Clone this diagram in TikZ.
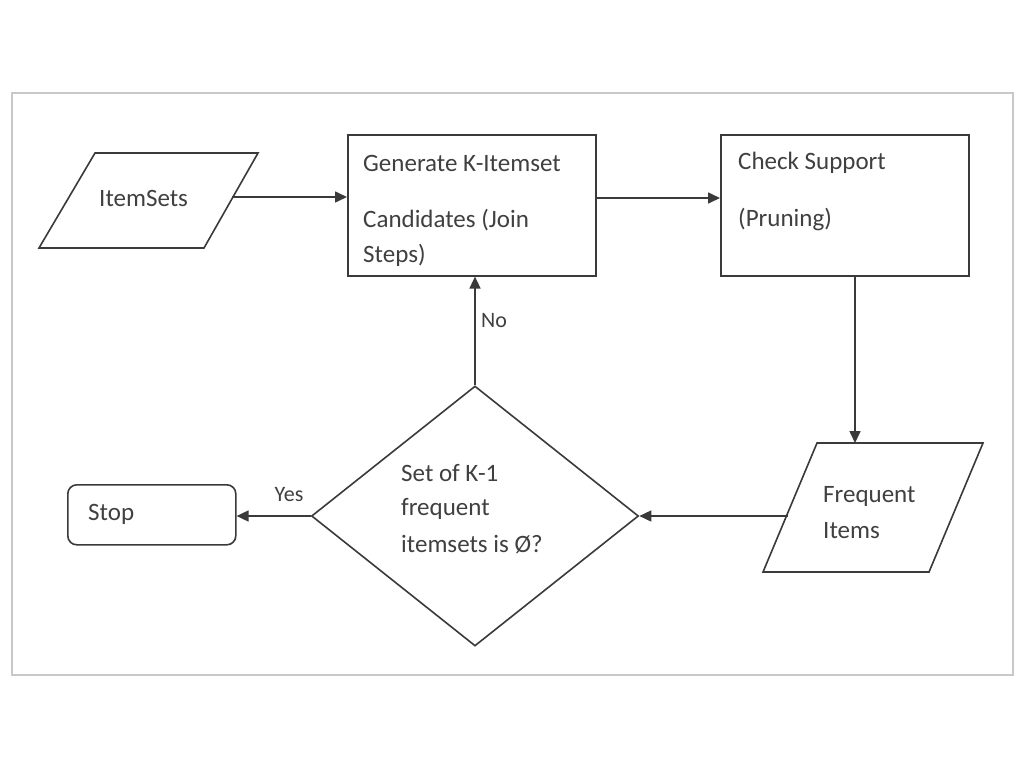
\documentclass[tikz,border=0pt]{standalone}
\usepackage{fontspec}
\setmainfont{Carlito}
\usetikzlibrary{arrows.meta,shapes.geometric}
\definecolor{linec}{HTML}{3A3A3A}
\definecolor{textc}{HTML}{404040}
\definecolor{framec}{HTML}{C8C8C8}
\tikzset{
  shapeline/.style={draw=linec, line width=1.6pt},
  lbl/.style={text=textc, font=\fontsize{25}{30}\selectfont, inner sep=0pt, anchor=west},
  small/.style={text=textc, font=\fontsize{22}{26}\selectfont, inner sep=0pt},
  conn/.style={draw=linec, line width=1.6pt, -{Triangle[length=12pt,width=11pt]}},
  boxnode/.style={shapeline, rectangle, inner sep=0pt, anchor=north west},
}
\begin{document}
\begin{tikzpicture}[x=1pt,y=-1pt]
\useasboundingbox (0,0) rectangle (1024,768);
\fill[white] (0,0) rectangle (1024,768);
\draw[framec, line width=1.2pt] (12,93) rectangle (1013,675);

% ItemSets parallelogram
\draw[shapeline] (95,153) -- (258,153) -- (204,248) -- (39,248) -- cycle;
\coordinate (itemR) at (232,197);
\node[lbl] (itemT) at (99,198) {ItemSets};

% Generate box
\node[boxnode, minimum width=248pt, minimum height=141pt] (gen) at (347,134) {};
\node[lbl] (gen1) at (363,163) {Generate K-Itemset};
\node[lbl] (gen2) at (363,220) {Candidates (Join};
\node[lbl] (gen3) at (363,255) {Steps)};

% Check box
\node[boxnode, minimum width=248pt, minimum height=141pt] (chk) at (720,134) {};
\node[lbl] (chk1) at (738,163) {Check Support};
\node[lbl] (chk2) at (738,220) {(Pruning)};

% Frequent Items parallelogram
\draw[shapeline] (817,443) -- (983,443) -- (929,572) -- (763,572) -- cycle;
\coordinate (freqT) at (855,443);
\coordinate (freqL) at (788,516);
\node[lbl] (fr1) at (823,496) {Frequent};
\node[lbl] (fr2) at (823,531) {Items};

% Decision diamond
\node[shapeline, diamond, minimum width=327pt, minimum height=260pt, inner sep=0pt] (dec) at (475,516) {};
\node[lbl] (d1) at (401,473) {Set of K-1};
\node[lbl] (d2) at (401,509) {frequent};
\node[lbl] (d3) at (401,545) {itemsets is Ø?};

% Stop
\node[shapeline, rectangle, rounded corners=9pt, minimum width=168pt, minimum height=60pt, anchor=north west] (stop) at (67,484) {};
\node[lbl] (stopT) at (88,514) {Stop};

% Connectors
\draw[conn] (itemR) -- (gen.west |- itemR);
\draw[conn] (gen.east |- 0,198) -- (chk.west |- 0,198);
\draw[conn] (chk.south -| freqT) -- (freqT);
\draw[conn] (freqL) -- (dec.east);
\draw[conn] (dec.north) -- (gen.south -| dec.north);
\draw[conn] (dec.west) -- (stop.east |- dec.west);

\node[small] (no) at (494,321) {No};
\node[small] (yes) at (289,495) {Yes};
\end{tikzpicture}
\end{document}
